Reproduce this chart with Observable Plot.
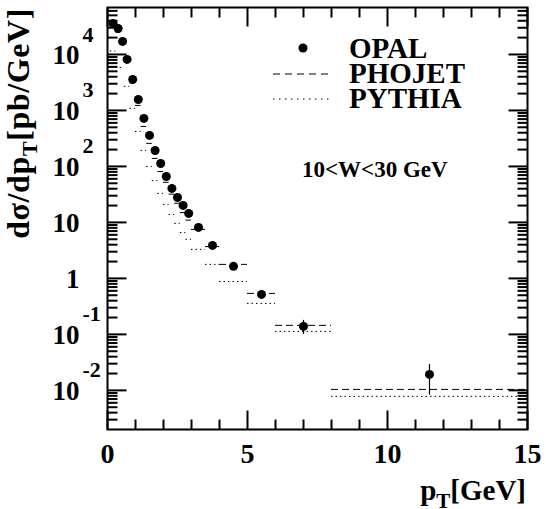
<!DOCTYPE html>
<html><head><meta charset="utf-8">
<script src="https://cdn.jsdelivr.net/npm/d3@7"></script>
<script src="https://cdn.jsdelivr.net/npm/@observablehq/plot@0.6"></script>
<style>body{margin:0;background:#fff} #chart{width:546px;height:509px}</style>
</head><body><div id="chart"></div>
<script>
// ---- data ----
const binLo = [0.1, 0.3, 0.45, 0.6, 0.8, 1.0, 1.2, 1.4, 1.6, 1.8, 2.0, 2.2, 2.4, 2.6, 2.8, 3.0, 3.5, 4, 5, 6, 8];
const binHi = [0.3, 0.45, 0.6, 0.8, 1.0, 1.2, 1.4, 1.6, 1.8, 2.0, 2.2, 2.4, 2.6, 2.8, 3.0, 3.5, 4, 5, 6, 8, 15];
const ptCenter = [0.2, 0.38, 0.54, 0.7, 0.9, 1.1, 1.3, 1.5, 1.7, 1.9, 2.1, 2.3, 2.5, 2.7, 2.9, 3.25, 3.75, 4.5, 5.5, 7.0, 11.5];
const opal = [35800, 29100, 17100, 8150, 3580, 1570, 720, 358, 193, 113, 66, 40.5, 27.9, 20.1, 14.5, 8.15, 3.88, 1.64, 0.518, 0.139, 0.0193];
const opalErrLo = [34500, 28000, 16500, 7850, 3450, 1510, 690, 343, 185, 108, 63, 38.5, 26.5, 19.0, 13.7, 7.6, 3.6, 1.50, 0.46, 0.100, 0.0082];
const opalErrHi = [37100, 30200, 17700, 8450, 3710, 1630, 750, 373, 201, 118, 69, 42.5, 29.3, 21.2, 15.3, 8.7, 4.16, 1.78, 0.58, 0.178, 0.0291];
const phojet = [32000, 25000, 15000, 8840, 3100, 1230, 518, 258, 139, 81, 52, 32, 22, 15, 11, 7.5, 3.7, 1.78, 0.54, 0.145, 0.0104];
const pythia = [11500, 10000, 5860, 2690, 1090, 422, 193, 100, 56, 33, 21, 13.9, 9.6, 6.6, 5.0, 3.3, 1.78, 0.88, 0.358, 0.113, 0.00782];

const xMajorTicks = [0, 5, 10, 15];
const xTickLabels = ["0", "5", "10", "15"];
const xMinorTicks = [1, 2, 3, 4, 6, 7, 8, 9, 11, 12, 13, 14];
const yMajorTicks = [0.01, 0.1, 1, 10, 100, 1000, 10000];
const yLabelBase = ["10", "10", "1", "10", "10", "10", "10"];
const yLabelExp = ["-2", "-1", "", "", "2", "3", "4"];
const legendNames = ["OPAL", "PHOJET", "PYTHIA"];
const rangeLabel = "10<W<30 GeV";

// ---- layout ----
const W = 546, H = 509;
const mL = 107, mR = 19, mT = 7, mB = 80;
const fw = W - mL - mR, fh = H - mT - mB;
const xDom = [0, 15], yDom = [0.002, 69000];
const font = "'Liberation Serif', 'Times New Roman', serif";

const rows = ptCenter.map((x, i) => ({
  x, lo: binLo[i], hi: binHi[i], y: opal[i], eLo: opalErrLo[i], eHi: opalErrHi[i], ph: phojet[i], py: pythia[i]
}));

const yMinorTicks = [];
for (let k = -3; k <= 4; k++) for (let m = 2; m <= 9; m++) {
  const v = m * Math.pow(10, k);
  if (v > yDom[0] && v < yDom[1]) yMinorTicks.push(v);
}
const yLabels = yMajorTicks.map((v, i) => ({v, base: yLabelBase[i], exp: yLabelExp[i]}));

// tick lengths (pixels) expressed in each scale's units
const pxPerDecade = fh / Math.log10(yDom[1] / yDom[0]);
const pxPerGeV = fw / (xDom[1] - xDom[0]);
const yFac = px => Math.pow(10, px / pxPerDecade);
const xLen = px => px / pxPerGeV;
const minorLen = 10, majorLen = 19;

const xTickRows = [...xMinorTicks.map(v => ({v, len: minorLen})), ...xMajorTicks.map(v => ({v, len: majorLen}))];
const yTickRows = [...yMinorTicks.map(v => ({v, len: minorLen})), ...yMajorTicks.map(v => ({v, len: majorLen}))];
const tickRows = [];
xTickRows.forEach(t => {
  tickRows.push({x1: t.v, x2: t.v, y1: yDom[0], y2: yDom[0] * yFac(t.len)});
  tickRows.push({x1: t.v, x2: t.v, y1: yDom[1] / yFac(t.len), y2: yDom[1]});
});
yTickRows.forEach(t => {
  tickRows.push({x1: xDom[0], x2: xDom[0] + xLen(t.len), y1: t.v, y2: t.v});
  tickRows.push({x1: xDom[1] - xLen(t.len), x2: xDom[1], y1: t.v, y2: t.v});
});

const txt = {fontFamily: font, fontWeight: "bold", fill: "black"};

const plot = Plot.plot({
  width: W, height: H,
  marginLeft: mL, marginRight: mR, marginTop: mT, marginBottom: mB,
  x: {domain: xDom, axis: null},
  y: {type: "log", domain: yDom, axis: null},
  style: {background: "white", overflow: "visible"},
  marks: [
    // model histograms
    Plot.ruleY(rows, {y: "ph", x1: "lo", x2: "hi", stroke: "black", strokeWidth: 1, strokeDasharray: "7,4"}),
    Plot.ruleY(rows, {y: "py", x1: "lo", x2: "hi", stroke: "black", strokeWidth: 1, strokeDasharray: "1.5,3"}),
    // data
    Plot.ruleX(rows, {x: "x", y1: "eLo", y2: "eHi", stroke: "black", strokeWidth: 1.2}),
    Plot.dot(rows, {x: "x", y: "y", r: 4.5, fill: "black", stroke: null}),
    // inward ticks on all four sides
    Plot.link(tickRows, {x1: "x1", y1: "y1", x2: "x2", y2: "y2", stroke: "black", strokeWidth: 2}),
    Plot.frame({stroke: "black", strokeWidth: 2}),
    // tick labels
    Plot.text(xMajorTicks, {x: d => d, text: (d, i) => xTickLabels[i], frameAnchor: "bottom", lineAnchor: "top", dy: 14, fontSize: 28, ...txt}),
    Plot.text(yLabels, {y: "v", text: "base", frameAnchor: "left", textAnchor: "end", dx: -28, dy: 1, fontSize: 27, ...txt}),
    Plot.text(yLabels.filter(d => d.exp), {y: "v", text: "exp", frameAnchor: "left", textAnchor: "start", dx: -25, dy: -20, fontSize: 22, ...txt})
  ]
});
document.getElementById("chart").appendChild(plot);

// ---- titles and legend (real SVG text) ----
const svg = d3.select(plot);
const g = svg.append("g").attr("font-family", font).attr("font-weight", "bold").attr("fill", "black");

// y title
const yt = g.append("text").attr("transform", "translate(29,8) rotate(-90)")
  .attr("text-anchor", "end").attr("font-size", 32).attr("letter-spacing", 0.6);
yt.append("tspan").text("d\u03c3/dp");
yt.append("tspan").attr("font-size", 22).attr("dy", 8).text("T");
yt.append("tspan").attr("dy", -8).text("[pb/GeV]");

// x title
const xt = g.append("text").attr("x", 526).attr("y", 500).attr("text-anchor", "end").attr("font-size", 29);
xt.append("tspan").text("p");
xt.append("tspan").attr("font-size", 21).attr("dy", 8).text("T");
xt.append("tspan").attr("dy", -8).text("[GeV]");

// legend
g.append("circle").attr("cx", 303).attr("cy", 48).attr("r", 4.5).attr("fill", "black");
g.append("line").attr("x1", 273).attr("x2", 332).attr("y1", 74).attr("y2", 74)
  .attr("stroke", "black").attr("stroke-width", 1.2).attr("stroke-dasharray", "7,5");
g.append("line").attr("x1", 273).attr("x2", 332).attr("y1", 99).attr("y2", 99)
  .attr("stroke", "black").attr("stroke-width", 1.2).attr("stroke-dasharray", "1.5,4.5");
legendNames.forEach((name, i) => {
  g.append("text").attr("x", 349).attr("y", 58 + i * 25).attr("text-anchor", "start").attr("font-size", 29).text(name);
});
g.append("text").attr("x", 302).attr("y", 177).attr("text-anchor", "start").attr("font-size", 23).text(rangeLabel);
</script>
</body></html>
